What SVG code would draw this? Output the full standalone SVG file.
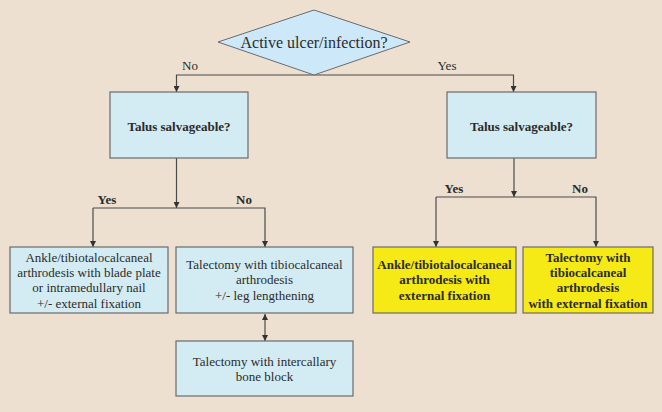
<svg xmlns="http://www.w3.org/2000/svg" width="662" height="412" viewBox="0 0 662 412" font-family="'Liberation Serif', 'Times New Roman', serif">
<defs>
<marker id="ah" viewBox="0 0 10 10" refX="10" refY="5" markerWidth="6" markerHeight="6" orient="auto-start-reverse" markerUnits="userSpaceOnUse"><path d="M0,0 L10,5 L0,10 Z" fill="#333"/></marker>
</defs>
<style>
.box{fill:#d3ebf3;stroke:#6b6b6b;stroke-width:1.2}
.ybox{fill:#f5e916;stroke:#6b6b6b;stroke-width:1.2}
.dia{fill:#cde8f8;stroke:#6b6b6b;stroke-width:1}
.t{font-size:13px;fill:#2b2b2b;text-anchor:middle;dominant-baseline:central}
.b{font-weight:bold;font-size:13px}
.lbl{font-size:13px;fill:#2b2b2b;text-anchor:middle;dominant-baseline:central}
.c{fill:none;stroke:#4a4a4a;stroke-width:1.2}
</style>
<rect width="662" height="412" fill="#ede0d1"/>
<g id="connectors">
<path class="c" d="M314,75 L176.5,75 L176.5,92" marker-end="url(#ah)"/>
<path class="c" d="M314,75 L513.5,75 L513.5,92" marker-end="url(#ah)"/>
<path class="c" d="M176.5,158 L176.5,208" marker-end="url(#ah)"/>
<path class="c" d="M93,208 L265,208 L265,247" marker-end="url(#ah)"/>
<path class="c" d="M93,208 L93,247" marker-end="url(#ah)"/>
<path class="c" d="M514,158 L514,197" marker-end="url(#ah)"/>
<path class="c" d="M436,197 L596,197 L596,247" marker-end="url(#ah)"/>
<path class="c" d="M436,197 L436,247" marker-end="url(#ah)"/>
<path class="c" d="M265,314 L265,341" marker-start="url(#ah)" marker-end="url(#ah)"/>
<text class="lbl" x="190" y="65">No</text>
<text class="lbl" x="447" y="65">Yes</text>
<text class="lbl b" x="107" y="199">Yes</text>
<text class="lbl b" x="244" y="199">No</text>
<text class="lbl b" x="454" y="188">Yes</text>
<text class="lbl b" x="580" y="188">No</text>
</g>
<g id="q1">
<polygon class="dia" points="314,10 410,42 314,75 218,42"/>
<text class="t" x="314" y="42" style="font-size:16px">Active ulcer/infection?</text>
</g>
<g id="q2">
<rect class="box" x="110" y="92" width="138" height="66"/>
<text class="t b" x="179" y="126">Talus salvageable?</text>
</g>
<g id="q3">
<rect class="box" x="447" y="92" width="149" height="66"/>
<text class="t b" x="521.5" y="126">Talus salvageable?</text>
</g>
<g id="n1">
<rect class="box" x="10" y="247" width="158" height="66"/>
<text class="t" x="89" y="257">Ankle/tibiotalocalcaneal</text>
<text class="t" x="89" y="272">arthrodesis with blade plate</text>
<text class="t" x="89" y="287.5">or intramedullary nail</text>
<text class="t" x="89" y="303">+/- external fixation</text>
</g>
<g id="n2">
<rect class="box" x="176" y="247" width="177" height="66"/>
<text class="t" x="264.5" y="264">Talectomy with tibiocalcaneal</text>
<text class="t" x="264.5" y="279.5">arthrodesis</text>
<text class="t" x="264.5" y="295">+/- leg lengthening</text>
</g>
<g id="n3">
<rect class="box" x="176" y="341" width="177" height="55"/>
<text class="t" x="264.5" y="361">Talectomy with intercallary</text>
<text class="t" x="264.5" y="376">bone block</text>
</g>
<g id="n4">
<rect class="ybox" x="373" y="247" width="143" height="66"/>
<text class="t b" x="444.5" y="264">Ankle/tibiotalocalcaneal</text>
<text class="t b" x="444.5" y="279.5">arthrodesis with</text>
<text class="t b" x="444.5" y="295">external fixation</text>
</g>
<g id="n5">
<rect class="ybox" x="523" y="247" width="130" height="66"/>
<text class="t b" x="588" y="257">Talectomy with</text>
<text class="t b" x="588" y="272">tibiocalcaneal</text>
<text class="t b" x="588" y="287.5">arthrodesis</text>
<text class="t b" x="588" y="303">with external fixation</text>
</g>
</svg>
